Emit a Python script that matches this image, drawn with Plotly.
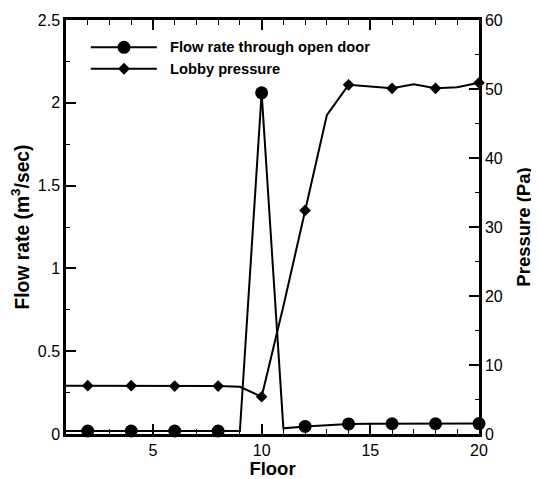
import plotly.graph_objects as go

# ---- data ----
floors = [1, 2, 3, 4, 5, 6, 7, 8, 9, 10, 11, 12, 13, 14, 15, 16, 17, 18, 19, 20]
flow_rate = [0.018, 0.018, 0.018, 0.018, 0.018, 0.018, 0.018, 0.018, 0.018, 2.06,
             0.034, 0.046, 0.055, 0.061, 0.062, 0.062, 0.062, 0.062, 0.062, 0.063]
lobby_pressure = [7.0, 7.0, 7.0, 7.0, 7.0, 6.95, 6.95, 6.95, 6.85, 5.4,
                  18.5, 32.4, 46.2, 50.6, 50.4, 50.1, 50.7, 50.1, 50.25, 50.9]
series_names = ["Flow rate through open door", "Lobby pressure"]

# markers are shown only on even floors
mk_floors = floors[1::2]
mk_flow = flow_rate[1::2]
mk_press = lobby_pressure[1::2]

FONT = "Liberation Sans, Arial, sans-serif"

fig = go.Figure()
fig.add_trace(go.Scatter(x=floors, y=flow_rate, mode="lines",
                         line=dict(color="black", width=2), showlegend=False))
fig.add_trace(go.Scatter(x=mk_floors, y=mk_flow, mode="markers", cliponaxis=False,
                         marker=dict(symbol="circle", size=13, color="black"),
                         showlegend=False, name=series_names[0]))
fig.add_trace(go.Scatter(x=floors, y=lobby_pressure, mode="lines", yaxis="y2",
                         line=dict(color="black", width=2), showlegend=False))
fig.add_trace(go.Scatter(x=mk_floors, y=mk_press, mode="markers", yaxis="y2", cliponaxis=False,
                         marker=dict(symbol="diamond", size=9, color="black"),
                         showlegend=False, name=series_names[1]))

# ---- manual legend (long line sample like the reference) ----
leg_rows = [0.934, 0.882]
shapes = []
annotations = []
for i, (yy, name) in enumerate(zip(leg_rows, series_names)):
    shapes.append(dict(type="line", xref="paper", yref="paper", x0=0.06, x1=0.22,
                       y0=yy, y1=yy, line=dict(color="black", width=2)))
    if i == 0:
        shapes.append(dict(type="circle", xref="paper", yref="paper",
                           xsizemode="pixel", ysizemode="pixel",
                           xanchor=0.1404, yanchor=yy, x0=-6.5, x1=6.5, y0=-6.5, y1=6.5,
                           fillcolor="black", line=dict(color="black", width=0)))
    else:
        shapes.append(dict(type="path", xref="paper", yref="paper",
                           xsizemode="pixel", ysizemode="pixel",
                           xanchor=0.1404, yanchor=yy,
                           path="M0,-6 L6,0 L0,6 L-6,0 Z",
                           fillcolor="black", line=dict(color="black", width=0)))
    annotations.append(dict(xref="paper", yref="paper", x=0.2462, y=yy, xanchor="left",
                            yanchor="middle", showarrow=False, text="<b>%s</b>" % name,
                            font=dict(family=FONT, size=14.7, color="black")))

tickfont = dict(family=FONT, size=16, color="black")

# page body has an 8px default margin, so the figure is 8px smaller and margins shifted
fig.update_layout(
    width=531, height=471,
    margin=dict(l=58, r=60, t=12, b=45, autoexpand=False),
    plot_bgcolor="white", paper_bgcolor="white",
    showlegend=False,
    shapes=shapes, annotations=annotations,
    xaxis=dict(range=[1, 20], tick0=0, dtick=5, ticks="inside", ticklen=10, tickwidth=2,
               tickcolor="black", showline=True, linecolor="black", linewidth=2.5,
               mirror="ticks", showgrid=False, zeroline=False, tickfont=tickfont,
               automargin=False,
               minor=dict(tick0=0, dtick=1, ticks="inside", ticklen=5, tickwidth=1,
                          tickcolor="black", showgrid=False),
               title=dict(text="<b>Floor</b>", font=dict(family=FONT, size=18.5, color="black"),
                          standoff=15)),
    yaxis=dict(range=[0, 2.5], dtick=0.5, ticks="inside", ticklen=10, tickwidth=2,
               tickcolor="black", showline=True, linecolor="black", linewidth=2.5,
               showgrid=False, zeroline=False, tickfont=tickfont, automargin=False,
               minor=dict(dtick=0.25, ticks="inside", ticklen=4, tickwidth=1,
                          tickcolor="black", showgrid=False),
               title=dict(text="<b>Flow rate (m<sup>3</sup>/sec)</b>",
                          font=dict(family=FONT, size=19.3, color="black"), standoff=4)),
    yaxis2=dict(range=[0, 60], dtick=10, overlaying="y", side="right", anchor="x",
                ticks="inside", ticklen=10, tickwidth=2, tickcolor="black",
                showline=True, linecolor="black", linewidth=2.5, layer="below traces",
                showgrid=False, zeroline=False, tickfont=tickfont, automargin=False,
                minor=dict(dtick=5, ticks="inside", ticklen=4, tickwidth=1,
                           tickcolor="black", showgrid=False),
                title=dict(text="<b>Pressure (Pa)</b>",
                           font=dict(family=FONT, size=18.5, color="black"), standoff=16)),
)

fig.write_html("out.html")
